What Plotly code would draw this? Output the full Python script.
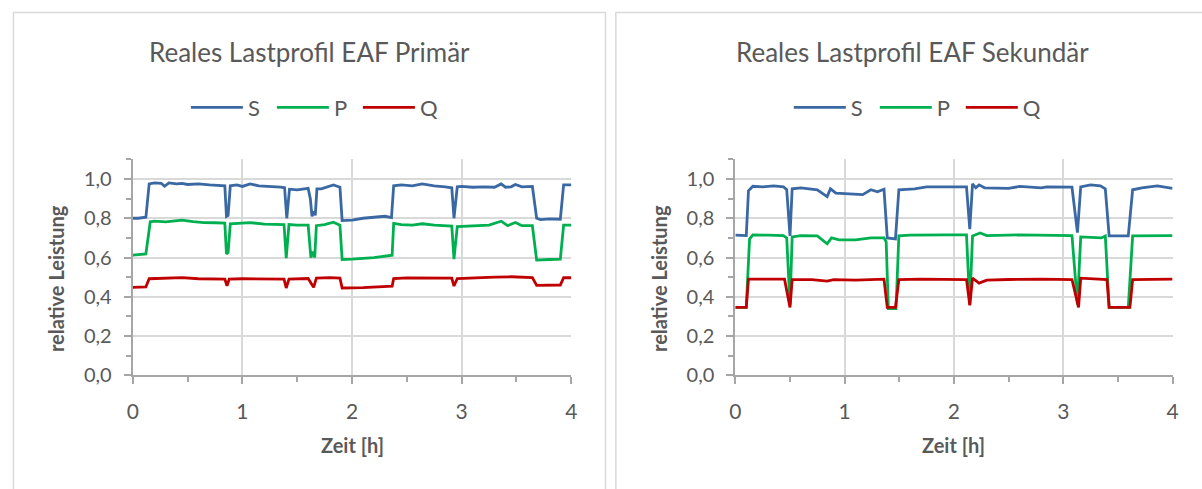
import plotly.graph_objects as go

# ---------------- Primär (left chart) ----------------
t_s_prim = [0, 0.05, 0.12, 0.15, 0.2, 0.26, 0.29, 0.33, 0.4, 0.45, 0.5, 0.6, 0.7, 0.8, 0.84,
            0.855, 0.87, 0.89, 0.95, 1.0, 1.07, 1.15, 1.25, 1.35, 1.385, 1.405, 1.43, 1.5, 1.6,
            1.62, 1.635, 1.65, 1.665, 1.68, 1.72, 1.8, 1.83, 1.89, 1.91, 2.0, 2.1, 2.2, 2.3,
            2.36, 2.38, 2.45, 2.55, 2.64, 2.75, 2.85, 2.91, 2.93, 2.96, 3.0, 3.1, 3.2, 3.3,
            3.36, 3.4, 3.45, 3.49, 3.55, 3.645, 3.684, 3.72, 3.8, 3.9, 3.93, 4.0]
s_prim = [0.80, 0.80, 0.805, 0.975, 0.98, 0.978, 0.963, 0.98, 0.975, 0.978, 0.972, 0.975, 0.97,
          0.968, 0.965, 0.81, 0.815, 0.965, 0.97, 0.962, 0.975, 0.965, 0.963, 0.958, 0.955, 0.80,
          0.948, 0.945, 0.952, 0.90, 0.81, 0.835, 0.815, 0.95, 0.95, 0.962, 0.97, 0.958, 0.788,
          0.79, 0.80, 0.805, 0.81, 0.803, 0.965, 0.97, 0.965, 0.975, 0.965, 0.96, 0.955, 0.80,
          0.96, 0.962, 0.958, 0.96, 0.958, 0.975, 0.958, 0.96, 0.972, 0.96, 0.962, 0.80, 0.793,
          0.797, 0.795, 0.97, 0.97]

t_p_prim = [0, 0.12, 0.16, 0.2, 0.3, 0.35, 0.45, 0.55, 0.65, 0.75, 0.84, 0.855, 0.87, 0.89,
            1.0, 1.07, 1.2, 1.38, 1.40, 1.425, 1.5, 1.6, 1.625, 1.645, 1.66, 1.675, 1.75, 1.83,
            1.89, 1.91, 2.0, 2.09, 2.2, 2.366, 2.38, 2.45, 2.55, 2.64, 2.75, 2.91, 2.93, 2.96,
            3.1, 3.25, 3.36, 3.42, 3.49, 3.55, 3.645, 3.684, 3.8, 3.9, 3.93, 4.0]
p_prim = [0.612, 0.618, 0.782, 0.785, 0.782, 0.785, 0.79, 0.783, 0.778, 0.777, 0.775, 0.618,
          0.625, 0.772, 0.775, 0.778, 0.77, 0.768, 0.597, 0.768, 0.765, 0.765, 0.60, 0.63, 0.60,
          0.762, 0.768, 0.78, 0.765, 0.59, 0.592, 0.595, 0.60, 0.612, 0.774, 0.768, 0.765, 0.772,
          0.765, 0.76, 0.592, 0.758, 0.762, 0.765, 0.785, 0.762, 0.778, 0.762, 0.762, 0.587,
          0.59, 0.592, 0.765, 0.765]

t_q_prim = [0, 0.12, 0.15, 0.3, 0.45, 0.6, 0.84, 0.86, 0.88, 1.0, 1.38, 1.40, 1.425, 1.6,
            1.635, 1.65, 1.675, 1.8, 1.89, 1.91, 2.1, 2.366, 2.38, 2.5, 2.91, 2.93, 2.96, 3.1,
            3.3, 3.45, 3.645, 3.684, 3.8, 3.9, 3.93, 4.0]
q_prim = [0.448, 0.45, 0.492, 0.496, 0.498, 0.492, 0.49, 0.456, 0.49, 0.492, 0.49, 0.445, 0.49,
          0.493, 0.46, 0.448, 0.495, 0.498, 0.495, 0.445, 0.447, 0.454, 0.493, 0.496, 0.495,
          0.455, 0.493, 0.497, 0.5, 0.502, 0.498, 0.458, 0.46, 0.46, 0.497, 0.497]

# ---------------- Sekundär (right chart) ----------------
t_s_sek = [0, 0.1, 0.12, 0.16, 0.25, 0.35, 0.44, 0.47, 0.50, 0.52, 0.6, 0.7, 0.75, 0.84, 0.87,
           0.92, 1.0, 1.1, 1.165, 1.24, 1.30, 1.36, 1.39, 1.465, 1.496, 1.64, 1.75, 1.934,
           2.115, 2.145, 2.17, 2.2, 2.23, 2.28, 2.5, 2.6, 2.8, 2.85, 3.08, 3.13, 3.16, 3.25,
           3.34, 3.385, 3.42, 3.595, 3.635, 3.72, 3.86, 4.0]
s_sek = [0.714, 0.712, 0.94, 0.963, 0.96, 0.965, 0.96, 0.945, 0.71, 0.95, 0.955, 0.95, 0.945,
         0.91, 0.95, 0.928, 0.925, 0.925, 0.92, 0.945, 0.935, 0.948, 0.70, 0.695, 0.945, 0.95,
         0.96, 0.96, 0.96, 0.744, 0.975, 0.955, 0.97, 0.955, 0.952, 0.962, 0.955, 0.96, 0.958,
         0.727, 0.96, 0.97, 0.965, 0.95, 0.71, 0.71, 0.945, 0.955, 0.965, 0.952]

t_p_sek = [0, 0.1, 0.13, 0.16, 0.3, 0.44, 0.47, 0.50, 0.52, 0.6, 0.75, 0.84, 0.88, 0.95, 1.1,
           1.24, 1.36, 1.38, 1.40, 1.47, 1.496, 1.6, 1.934, 2.115, 2.145, 2.17, 2.24, 2.3, 2.6,
           3.08, 3.13, 3.16, 3.35, 3.385, 3.42, 3.595, 3.635, 4.0]
p_sek = [0.346, 0.346, 0.694, 0.715, 0.714, 0.712, 0.70, 0.36, 0.705, 0.712, 0.71, 0.67, 0.70,
         0.69, 0.69, 0.70, 0.70, 0.68, 0.34, 0.34, 0.71, 0.714, 0.715, 0.715, 0.36, 0.71, 0.725,
         0.712, 0.715, 0.712, 0.36, 0.705, 0.70, 0.71, 0.346, 0.346, 0.71, 0.712]

t_q_sek = [0, 0.1, 0.12, 0.3, 0.45, 0.50, 0.52, 0.7, 0.84, 0.9, 1.1, 1.36, 1.39, 1.465, 1.496,
           1.7, 2.115, 2.145, 2.17, 2.23, 2.3, 2.5, 2.8, 3.08, 3.14, 3.16, 3.3, 3.40, 3.42,
           3.61, 3.635, 4.0]
q_sek = [0.346, 0.346, 0.49, 0.492, 0.49, 0.346, 0.487, 0.487, 0.48, 0.487, 0.485, 0.49, 0.346,
         0.346, 0.487, 0.49, 0.488, 0.357, 0.495, 0.47, 0.485, 0.488, 0.49, 0.488, 0.346, 0.495,
         0.49, 0.488, 0.346, 0.346, 0.487, 0.49]

series_names = ["S", "P", "Q"]
series_colors = ["#3A68A3", "#00B050", "#C00000"]

titles = ["Reales Lastprofil EAF Primär", "Reales Lastprofil EAF Sekundär"]
x_title = "Zeit [h]"
y_title = "relative Leistung"
x_ticks = [0, 1, 2, 3, 4]
y_ticks = [0.0, 0.2, 0.4, 0.6, 0.8, 1.0]

W, H = 1202, 489
FONT = "Lato"
TXT = "#595959"
AXIS = "#A6A6A6"
GRID = "#D9D9D9"

fig = go.Figure()

panels = [
    (("x", "y"), "legend", [(t_s_prim, s_prim), (t_p_prim, p_prim), (t_q_prim, q_prim)]),
    (("x2", "y2"), "legend2", [(t_s_sek, s_sek), (t_p_sek, p_sek), (t_q_sek, q_sek)]),
]
for (xa, ya), leg, data in panels:
    for name, color, (tt, vv) in zip(series_names, series_colors, data):
        fig.add_trace(go.Scatter(
            x=tt, y=vv, mode="lines", name=name, xaxis=xa, yaxis=ya, legend=leg,
            line=dict(color=color, width=2.8),
        ))

def px(x):
    return x / W

def py(y):
    return 1 - y / H

x_axis = dict(
    range=[0, 4], tickmode="array", tickvals=x_ticks, ticktext=[str(v) for v in x_ticks],
    showline=True, linecolor=AXIS, linewidth=2, ticks="outside", ticklen=7, tickwidth=2,
    tickcolor=AXIS, showgrid=True, gridcolor=GRID, gridwidth=1.5, zeroline=False,
    tickfont=dict(family=FONT, size=21, color=TXT), ticklabelstandoff=9,
    minor=dict(dtick=0.5, ticks="outside", ticklen=5, tickwidth=2, tickcolor=AXIS, showgrid=False),
    fixedrange=True,
)
y_axis = dict(
    range=[0, 1.1], tickmode="array", tickvals=y_ticks, tickformat=".1f",
    showline=True, linecolor=AXIS, linewidth=2, ticks="outside", ticklen=7, tickwidth=2,
    tickcolor=AXIS, showgrid=True, gridcolor=GRID, gridwidth=1.5, zeroline=False,
    tickfont=dict(family=FONT, size=20, color=TXT), ticklabelstandoff=8,
    minor=dict(dtick=0.1, ticks="outside", ticklen=5, tickwidth=2, tickcolor=AXIS, showgrid=False),
    fixedrange=True,
)

legend_style = dict(orientation="h", y=py(110), xanchor="center", yanchor="middle",
                    font=dict(family=FONT, size=22, color=TXT), itemwidth=52,
                    entrywidth=19, entrywidthmode="pixels", bgcolor="rgba(0,0,0,0)")

fig.update_layout(
    width=W, height=H, margin=dict(l=0, r=0, t=0, b=0),
    paper_bgcolor="white", plot_bgcolor="white",
    separators=",.",
    font=dict(family=FONT, color=TXT),
    xaxis=dict(x_axis, domain=[px(128), px(571)], anchor="y"),
    yaxis=dict(y_axis, domain=[py(384), py(163)], anchor="x"),
    xaxis2=dict(x_axis, domain=[px(736.7), px(1178.3)], anchor="y2"),
    yaxis2=dict(y_axis, domain=[py(384), py(163)], anchor="x2"),
    legend=dict(legend_style, x=px(312)),
    legend2=dict(legend_style, x=px(921)),
    showlegend=True,
)

# chart frames
fig.add_shape(type="rect", xref="paper", yref="paper", x0=px(7.5), x1=px(605.5),
              y0=-0.1, y1=py(12.7), line=dict(color=GRID, width=1.5), layer="below")
fig.add_shape(type="rect", xref="paper", yref="paper", x0=px(616), x1=1.1,
              y0=-0.1, y1=py(12.7), line=dict(color=GRID, width=1.5), layer="below")

# chart titles and axis titles
for cx, title, ycx, xcx in [(307, titles[0], 50, 349.5), (916, titles[1], 659, 957.5)]:
    fig.add_annotation(text=title, x=px(cx), y=py(53), xref="paper", yref="paper",
                       showarrow=False, xanchor="center", yanchor="middle",
                       font=dict(family=FONT, size=26, color=TXT))
    fig.add_annotation(text="<b>%s</b>" % y_title, x=px(ycx), y=py(285), xref="paper",
                       yref="paper", showarrow=False, textangle=-90, xanchor="center",
                       yanchor="middle", font=dict(family=FONT, size=20, color=TXT))
    fig.add_annotation(text="<b>%s</b>" % x_title, x=px(xcx), y=py(455), xref="paper",
                       yref="paper", showarrow=False, xanchor="center", yanchor="middle",
                       font=dict(family=FONT, size=20, color=TXT))

fig.write_html("out.html")
